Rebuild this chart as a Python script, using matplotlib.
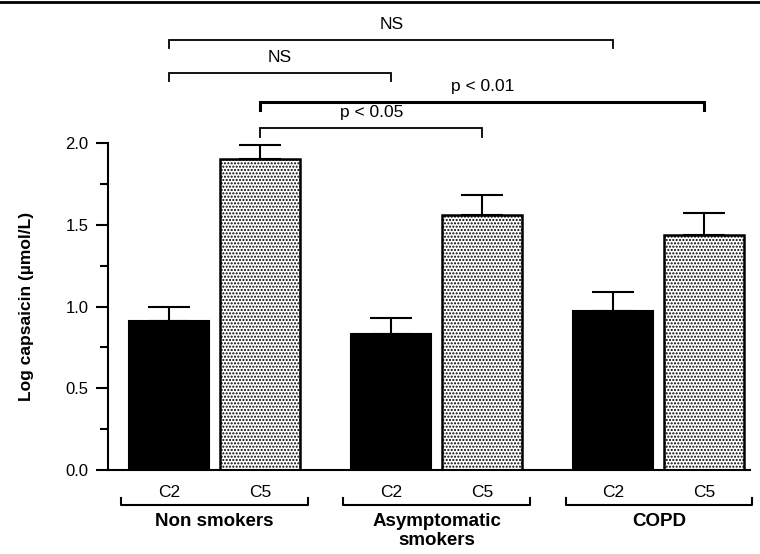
import matplotlib.pyplot as plt
import numpy as np

plt.rcParams['font.family'] = ['Liberation Sans', 'DejaVu Sans']

# Data
groups = ['Non smokers', 'Asymptomatic\nsmokers', 'COPD']
conc_labels = ['C2', 'C5']
c2_means = [0.91, 0.83, 0.97]
c2_sem = [0.09, 0.10, 0.12]
c5_means = [1.90, 1.56, 1.44]
c5_sem = [0.09, 0.12, 0.13]

# (bar index a, bar index b, label, level, linewidth); bars: 0..5 ordered C2,C5 per group
comparisons = [
    (0, 4, 'NS', 2.63, 1.3),
    (0, 2, 'NS', 2.43, 1.3),
    (1, 5, 'p < 0.01', 2.25, 2.2),
    (1, 3, 'p < 0.05', 2.09, 1.3),
]

fig = plt.figure(figsize=(7.6, 5.54), dpi=100)
ax = fig.add_axes([108 / 760, 1 - 470 / 554, (750 - 108) / 760, 470 / 554])

x = np.arange(len(groups))
off = 0.205
w = 0.36

ax.bar(x - off, c2_means, w, color='black', edgecolor='black', linewidth=1.5, zorder=2)
ax.bar(x + off, c5_means, w, color='white', edgecolor='black', linewidth=1.8,
       hatch='.....', zorder=2)
ax.errorbar(x - off, c2_means, yerr=[np.zeros(3), c2_sem], fmt='none', ecolor='black',
            elinewidth=1.5, capsize=15, capthick=1.5, zorder=1)
ax.errorbar(x + off, c5_means, yerr=[np.zeros(3), c5_sem], fmt='none', ecolor='black',
            elinewidth=1.5, capsize=15, capthick=1.5, zorder=1)

ax.set_xlim(-0.48, 2.41)
ax.set_ylim(0, 2.875)
ax.spines['top'].set_visible(False)
ax.spines['right'].set_visible(False)
ax.spines['left'].set_bounds(0, 2.0)
ax.spines['left'].set_linewidth(1.5)
ax.spines['bottom'].set_linewidth(1.5)
ax.set_yticks(np.arange(0, 2.01, 0.5))
ax.set_yticklabels([f'{v:.1f}' for v in np.arange(0, 2.01, 0.5)], fontsize=12)
ax.set_yticks(np.arange(0.25, 2.0, 0.5), minor=True)
ax.tick_params(axis='y', which='major', length=9, width=1.5, direction='out', pad=5)
ax.tick_params(axis='y', which='minor', length=6, width=1.5, direction='out')
ax.set_xticks([])
ax.set_ylabel('Log capsaicin (\u00b5mol/L)', fontsize=12.5, fontweight='bold')
ax.yaxis.set_label_coords(-0.115, 1.0 / 2.875)

# Significance brackets
centers = []
for g in x:
    centers += [g - off, g + off]
leg = 0.05
for a, b, lab, lvl, lw in comparisons:
    xa, xb = centers[a], centers[b]
    ax.plot([xa, xa, xb, xb], [lvl - leg, lvl, lvl, lvl - leg], color='black',
            lw=lw, clip_on=False, solid_joinstyle='miter')
    ax.text((xa + xb) / 2, lvl + 0.05, lab, ha='center', va='bottom', fontsize=12.5)

# Group labels below axis
for g, name in zip(x, groups):
    ax.text(g - off, -0.135, conc_labels[0], ha='center', va='center', fontsize=12.5)
    ax.text(g + off, -0.135, conc_labels[1], ha='center', va='center', fontsize=12.5)
    ax.plot([g - 0.42, g - 0.42, g + 0.42, g + 0.42], [-0.17, -0.215, -0.215, -0.17],
            color='black', lw=1.5, clip_on=False)
    ax.text(g, -0.265, name, ha='center', va='top', fontsize=13.5, fontweight='bold',
            linespacing=1.15)

# Frame line at top of picture
fig.add_artist(plt.Line2D([0, 1], [0.997, 0.997], color='black', lw=2, transform=fig.transFigure))

fig.savefig('out.png', dpi=100)
